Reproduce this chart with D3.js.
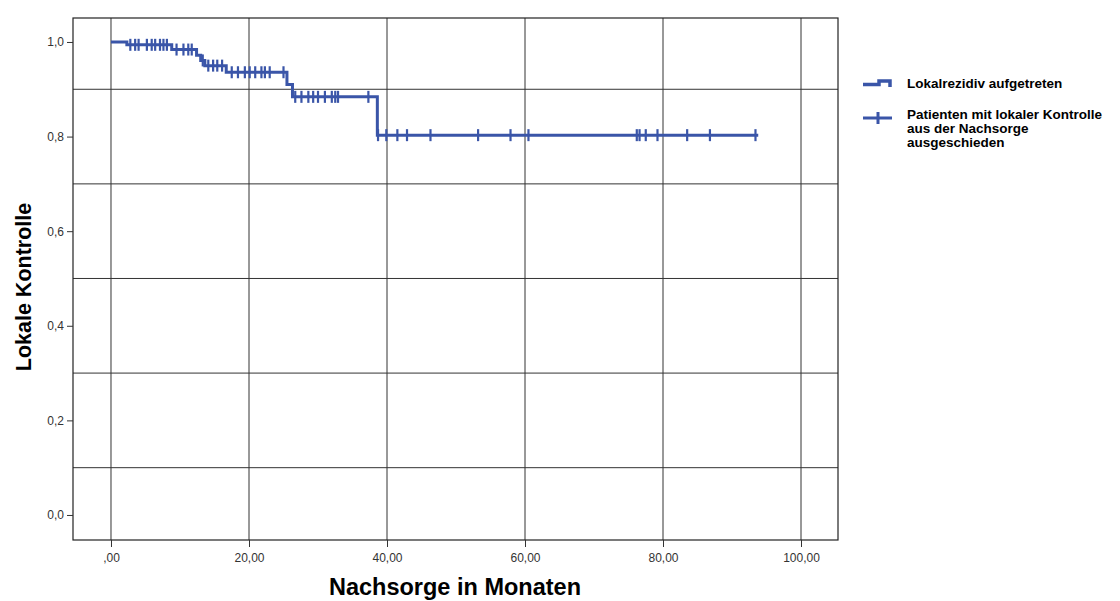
<!DOCTYPE html>
<html>
<head>
<meta charset="utf-8">
<script src="https://cdn.jsdelivr.net/npm/d3@7"></script>
<style>
  body { margin: 0; background: #fff; }
  svg { display: block; font-family: Arial, "Liberation Sans", sans-serif; }
</style>
</head>
<body>
<svg id="chart" width="1120" height="601"></svg>
<script>
// Kaplan-Meier: lokale Kontrolle
const eventTimes = [2.3, 8.8, 12.4, 13.0, 13.6, 16.7, 25.5, 26.3, 38.6]
const eventSurvival = [0.994, 0.984, 0.972, 0.961, 0.950, 0.936, 0.910, 0.884, 0.803]
const endTime = 93.8
const censorTimes = [2.8, 3.5, 4.0, 5.2, 5.9, 6.4, 7.1, 7.6, 8.1, 9.5, 10.5, 11.2, 11.7,
  13.3, 14.1, 14.8, 15.4, 16.1, 17.5, 18.4, 19.4, 20.1, 20.9, 21.8, 22.3, 23.0, 25.0,
  26.7, 27.6, 28.6, 29.3, 30.0, 31.0, 32.0, 32.5, 32.9, 37.3,
  38.7, 39.9, 41.5, 42.9, 46.3, 53.2, 57.9, 60.5, 76.2, 76.6, 77.5, 79.2, 83.5, 86.8, 93.4]
const xTicks = [0, 20, 40, 60, 80, 100]
const yTicks = [0, 0.2, 0.4, 0.6, 0.8, 1.0]
const yGrid = [0.1, 0.3, 0.5, 0.7, 0.9]
const legendLabels = ["Lokalrezidiv aufgetreten", ["Patienten mit lokaler Kontrolle", "aus der Nachsorge", "ausgeschieden"]]

const blue = "#3a55a8"
const svg = d3.select("#chart")

// frame 73..838 x 18..540
const x = d3.scaleLinear().domain([-5.507, 105.36]).range([73, 838])
const y = d3.scaleLinear().domain([-0.0529, 1.0507]).range([540, 18])

const fmtX = d => d === 0 ? ",00" : d3.format(".2f")(d).replace(".", ",")
const fmtY = d => d3.format(".1f")(d).replace(".", ",")

// grid
svg.append("g").selectAll("line").data(xTicks).join("line")
  .attr("x1", d => x(d)).attr("x2", d => x(d))
  .attr("y1", 18).attr("y2", 540)
  .attr("stroke", "#333").attr("stroke-width", 1)
svg.append("g").selectAll("line").data(yGrid).join("line")
  .attr("x1", 73).attr("x2", 838)
  .attr("y1", d => y(d)).attr("y2", d => y(d))
  .attr("stroke", "#333").attr("stroke-width", 1)

// frame
svg.append("rect")
  .attr("x", 73).attr("y", 18).attr("width", 765).attr("height", 522)
  .attr("fill", "none").attr("stroke", "#222").attr("stroke-width", 1.2)

// axes
const xAxis = svg.append("g").attr("transform", "translate(0,540)")
  .call(d3.axisBottom(x).tickValues(xTicks).tickFormat(fmtX).tickSize(7).tickPadding(6))
const yAxis = svg.append("g").attr("transform", "translate(73,0)")
  .call(d3.axisLeft(y).tickValues(yTicks).tickFormat(fmtY).tickSize(6).tickPadding(3))
;[xAxis, yAxis].forEach(a => {
  a.select(".domain").remove()
  a.selectAll("line").attr("stroke", "#333")
  a.selectAll("text").attr("fill", null).style("fill", "#333").style("font-size", "12px")
    .style("font-family", "Arial, 'Liberation Sans', sans-serif")
})

// step curve
const steps = [[0, 1]]
let cur = 1
eventTimes.forEach((t, i) => {
  steps.push([t, cur])
  cur = eventSurvival[i]
  steps.push([t, cur])
})
steps.push([endTime, cur])

function survAt(t){
  let s = 1
  eventTimes.forEach((e, i) => { if (e <= t) s = eventSurvival[i] })
  return s
}

svg.append("path")
  .attr("d", d3.line().x(d => x(d[0])).y(d => y(d[1]))(steps))
  .attr("fill", "none").attr("stroke", blue).attr("stroke-width", 3)

svg.append("g").selectAll("line").data(censorTimes).join("line")
  .attr("x1", d => x(d)).attr("x2", d => x(d))
  .attr("y1", d => y(survAt(d)) - 6).attr("y2", d => y(survAt(d)) + 6)
  .attr("stroke", blue).attr("stroke-width", 2.2)

// axis titles
svg.append("text")
  .attr("transform", "translate(31,287) rotate(-90)")
  .attr("text-anchor", "middle")
  .style("font-size", "21.5px").style("font-weight", "bold")
  .text("Lokale Kontrolle")
svg.append("text")
  .attr("x", 455).attr("y", 595)
  .attr("text-anchor", "middle")
  .style("font-size", "23.5px").style("font-weight", "bold")
  .text("Nachsorge in Monaten")

// legend
const legend = svg.append("g")
legend.append("path")
  .attr("d", "M863,84.5 H879 V81 H890 V87")
  .attr("fill", "none").attr("stroke", blue).attr("stroke-width", 3.5)
legend.append("line").attr("x1", 863).attr("x2", 892).attr("y1", 118).attr("y2", 118)
  .attr("stroke", blue).attr("stroke-width", 3)
legend.append("line").attr("x1", 878).attr("x2", 878).attr("y1", 112).attr("y2", 124)
  .attr("stroke", blue).attr("stroke-width", 3)

legend.append("text")
  .attr("x", 907).attr("y", 88)
  .style("font-size", "13.5px").style("font-weight", "bold")
  .text(legendLabels[0])
legend.append("text")
  .attr("x", 907).attr("y", 119)
  .style("font-size", "13.5px").style("font-weight", "bold")
  .selectAll("tspan").data(legendLabels[1]).join("tspan")
  .attr("x", 907).attr("dy", (d, i) => i === 0 ? 0 : 14)
  .text(d => d)
</script>
</body>
</html>
